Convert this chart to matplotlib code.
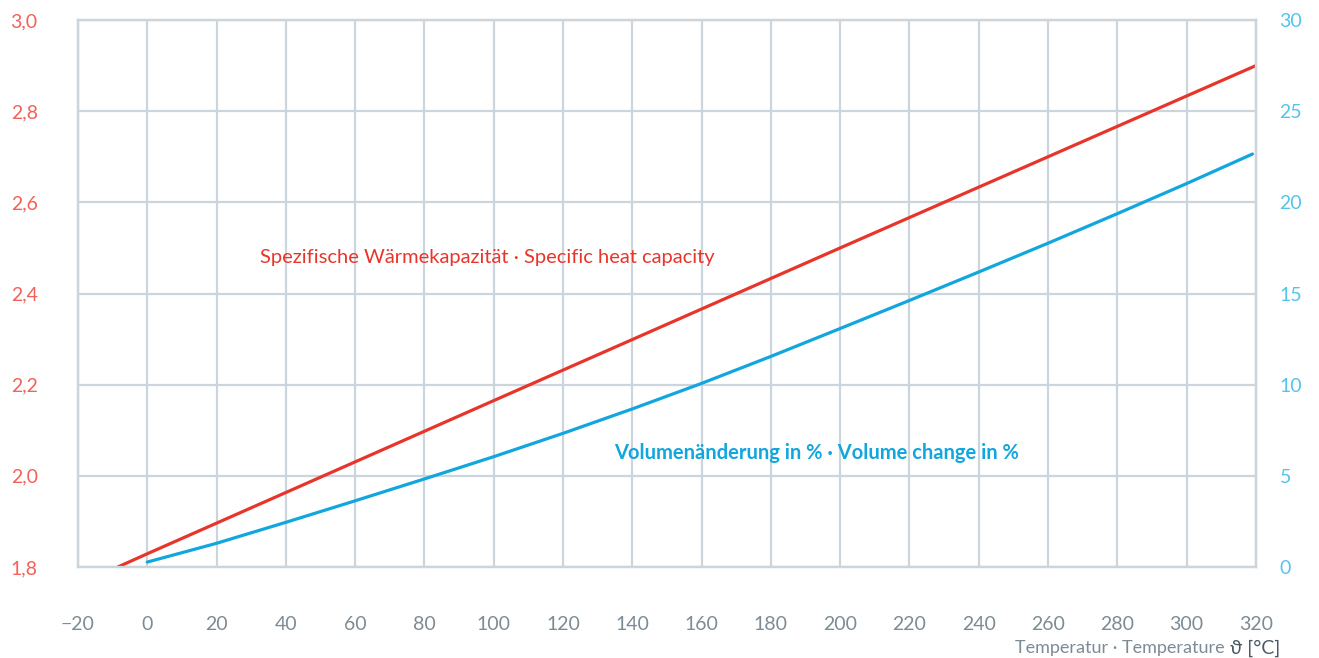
import numpy as np
from matplotlib import pyplot as plt

plt.rcParams['font.family'] = ['Lato', 'DejaVu Sans']

# specific heat capacity (left axis)
temp_cap = [-8.5, 0, 100, 200, 320]
heat_cap = [1.80, 1.829, 2.165, 2.50, 2.90]

# volume change in % (right axis)
temp_vol = [0, 20, 40, 60, 80, 100, 120, 140, 160, 180, 200, 220, 240, 260, 280, 300, 319]
vol_change = [0.27, 1.30, 2.45, 3.63, 4.83, 6.05, 7.33, 8.67, 10.07, 11.55, 13.08,
              14.62, 16.18, 17.76, 19.38, 21.03, 22.65]

x_ticks = list(range(-20, 321, 20))
left_ticks = [1.8, 2.0, 2.2, 2.4, 2.6, 2.8, 3.0]
right_ticks = [0, 5, 10, 15, 20, 25, 30]

red = "#e8352c"
blue = "#12a6df"
grid_col = "#cdd5dc"

fig = plt.figure(figsize=(13.19, 6.58), dpi=100)
ax = fig.add_axes([0.0591, 0.1383, 0.8931, 0.8313])
ax2 = ax.twinx()

ax.set_xlim(-20, 320)
ax.set_ylim(1.8, 3.0)
ax2.set_ylim(0, 30)
ax.set_xticks(x_ticks)
ax.set_yticks(left_ticks)
ax2.set_yticks(right_ticks)
ax.set_xticklabels(["\u221220" if t < 0 else str(t) for t in x_ticks])
ax.set_yticklabels([("%.1f" % v).replace(".", ",") for v in left_ticks])

ax.grid(True, color=grid_col, lw=1.6)
ax.set_axisbelow(True)
for a in (ax, ax2):
    for s in a.spines.values():
        s.set_color(grid_col)
        s.set_linewidth(1.6)
    a.tick_params(length=0)

ax.tick_params(axis='y', pad=29, labelsize=14, labelcolor="#f2615a")
ax.tick_params(axis='x', pad=35, labelsize=14, labelcolor="#7d8b95")
ax2.tick_params(axis='y', pad=17, labelsize=14, labelcolor="#55c3ec")

ax.plot(temp_cap, heat_cap, color=red, lw=2.3, solid_capstyle='round', zorder=3)
ax2.plot(temp_vol, vol_change, color=blue, lw=2.3, solid_capstyle='round', zorder=3)

ax.text(32.5, 2.478, "Spezifische Wärmekapazität \u00b7 Specific heat capacity",
        color=red, fontsize=14.5, va='center', ha='left')
ax.text(134.7, 2.05, "Volumenänderung in % \u00b7 Volume change in %",
        color=blue, fontsize=14.5, va='center', ha='left', fontweight='bold')

# axis title: grey words, darker symbol/unit
unit = fig.text(1280 / 1319, 1 - 648 / 658, " \u03d1 [°C]",
                color="#4a5a64", fontsize=14, ha='right', va='center')
fig.canvas.draw()
bb = unit.get_window_extent()
fig.text(bb.x0 / fig.bbox.width, 1 - 648 / 658, "Temperatur \u00b7 Temperature",
         color="#7d8b95", fontsize=13, ha='right', va='center')

fig.savefig("out.png", dpi=100)
